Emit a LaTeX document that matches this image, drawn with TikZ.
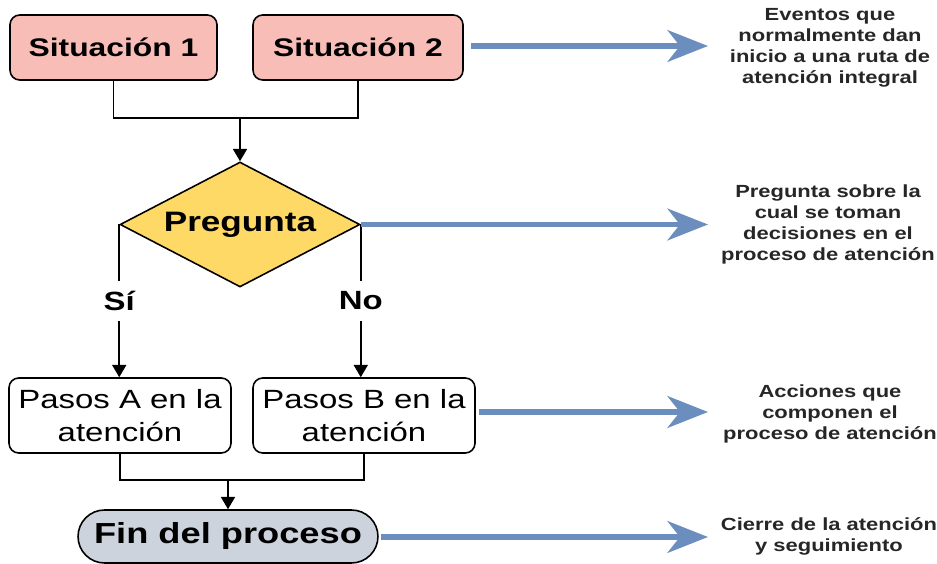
\documentclass[tikz,border=0pt]{standalone}
\usepackage{fontspec}
\setmainfont[FakeStretch=1.25]{Liberation Sans}
\usetikzlibrary{shapes.geometric,shapes.misc,arrows.meta}

\definecolor{situfill}{HTML}{F9BDB7}
\definecolor{askfill}{HTML}{FFD966}
\definecolor{endfill}{HTML}{CDD3DD}
\definecolor{notecol}{HTML}{6C8EBF}

\begin{document}
\begin{tikzpicture}[x=0.02cm, y=-0.02cm,
    situ/.style={draw, line width=0.9pt, rounded corners=5.5pt, fill=situfill,
      minimum height=1.3cm, inner sep=0pt, font=\bfseries\fontsize{14.5}{17}\selectfont},
    ask/.style={draw, line width=0.9pt, diamond, aspect=1.92, fill=askfill, inner sep=0pt,
      minimum width=4.8cm, minimum height=2.5cm, font=\bfseries\fontsize{16}{19}\selectfont},
    stepbox/.style={draw, line width=0.9pt, rounded corners=5.5pt, fill=white, align=center,
      minimum width=4.44cm, minimum height=1.5cm, inner sep=0pt, font=\fontsize{15}{19}\selectfont},
    finbox/.style={draw, line width=0.9pt, rounded rectangle, fill=endfill, inner sep=0pt,
      minimum width=6cm, minimum height=1.06cm, font=\bfseries\fontsize{16.5}{19}\selectfont},
    answer/.style={fill=white, inner xsep=1pt, inner ysep=6pt, font=\bfseries\fontsize{15}{18}\selectfont},
    note/.style={align=center, text=black!85, font=\bfseries\fontsize{10}{12}\selectfont},
    flow/.style={line width=0.9pt, -{Triangle[width=8pt,length=7pt]}},
    link/.style={line width=0.9pt},
    tonote/.style={line width=3.4pt, draw=notecol, -{Stealth[length=23pt,width=18pt,inset=7pt]}}]
  \useasboundingbox (0,0) rectangle (937,564);

  % flow boxes
  \node[situ, minimum width=4.14cm] (s1) at (113.5,47.5) {Situación 1};
  \node[situ, minimum width=4.2cm] (s2) at (358,47.5) {Situación 2};
  \node[ask] (q) at (240,224.5) {Pregunta};
  \node[stepbox] (pa) at (120,415.5) {Pasos A en la\\atención};
  \node[stepbox] (pb) at (364,415.5) {Pasos B en la\\atención};
  \node[finbox] (fin) at (228,536.5) {Fin del proceso};

  \coordinate (j1) at (240,118);
  \coordinate (j2) at (228,480);

  \draw[link] (s1.south) |- (j1) -| (s2.south);
  \draw[flow] (j1) -- (q.north);

  \draw[flow] (q.west) -- (q.west |- pa.north) node[answer, midway] (si) {Sí};
  \draw[flow] (q.east) -- (q.east |- pb.north) node[answer, midway] (no) {No};

  \draw[link] (pa.south) |- (j2) -| (pb.south);
  \draw[flow] (j2) -- (fin.north);

  % notes on the right
  \node[note] (t1) at (830,48) {Eventos que\\normalmente dan\\inicio a una ruta de\\atención integral};
  \node[note] (t2) at (828,224.5) {Pregunta sobre la\\cual se toman\\decisiones en el\\proceso de atención};
  \node[note] (t3) at (830,414) {Acciones que\\componen el\\proceso de atención};
  \node[note] (t4) at (829,536) {Cierre de la atención\\y seguimiento};

  \coordinate (e1) at (708,46);
  \coordinate (e2) at (708,224.5);
  \coordinate (e3) at (708,412);
  \coordinate (e4) at (708,537);

  \draw[tonote] (s2.east |- e1) ++(7,0) -- (e1);
  \draw[tonote] (q.east) -- (e2);
  \draw[tonote] (pb.east |- e3) ++(3,0) -- (e3);
  \draw[tonote] (fin.east |- e4) ++(2,0) -- (e4);
\end{tikzpicture}
\end{document}
